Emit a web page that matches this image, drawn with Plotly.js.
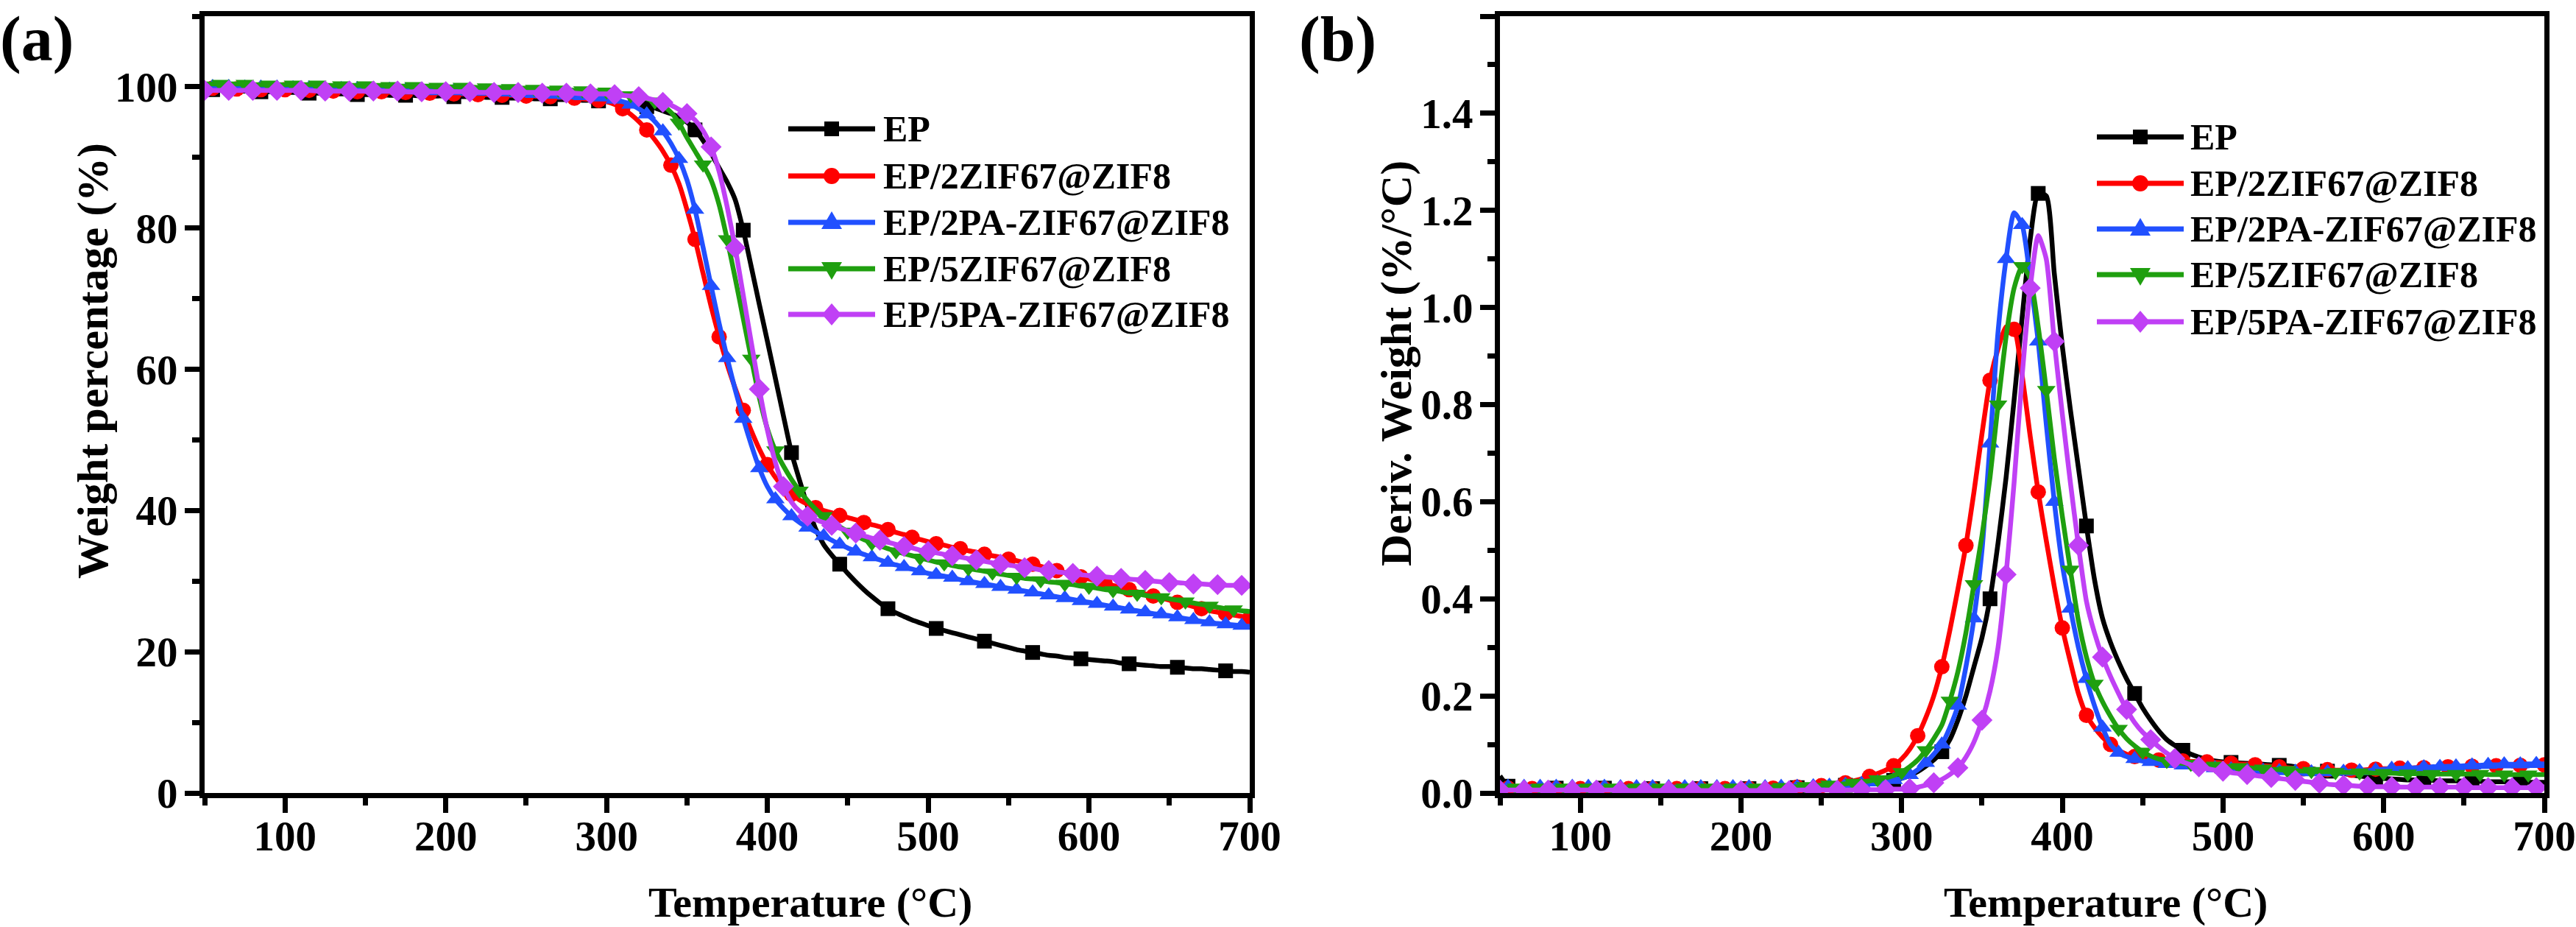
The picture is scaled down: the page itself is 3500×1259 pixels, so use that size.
<!DOCTYPE html>
<html><head><meta charset="utf-8">
<script src="https://cdn.plot.ly/plotly-3.0.1.min.js"></script>
<style>html,body{margin:0;padding:0;background:#fff;}#chart{width:3500px;height:1259px;}</style>
</head><body><div id="chart"></div>
<script>
// ---------------- DATA ----------------
const temperature = [50,55,60,65,70,75,80,85,90,95,100,105,110,115,120,125,130,135,140,145,150,155,160,165,170,175,180,185,190,195,200,205,210,215,220,225,230,235,240,245,250,255,260,265,270,275,280,285,290,295,300,305,310,315,320,325,330,335,340,345,350,355,360,365,370,375,380,385,390,395,400,405,410,415,420,425,430,435,440,445,450,455,460,465,470,475,480,485,490,495,500,505,510,515,520,525,530,535,540,545,550,555,560,565,570,575,580,585,590,595,600,605,610,615,620,625,630,635,640,645,650,655,660,665,670,675,680,685,690,695,700];

const seriesNames = ['EP','EP/2ZIF67@ZIF8','EP/2PA-ZIF67@ZIF8','EP/5ZIF67@ZIF8','EP/5PA-ZIF67@ZIF8'];

const weightEP = [99.6,99.6,99.5,99.5,99.4,99.4,99.4,99.3,99.3,99.3,
99.2,99.2,99.2,99.1,99.1,99.1,99.0,99.0,99.0,98.9,
98.9,98.9,98.9,98.8,98.8,98.8,98.8,98.7,98.7,98.7,
98.7,98.6,98.6,98.6,98.6,98.5,98.5,98.5,98.4,98.4,
98.4,98.3,98.3,98.3,98.2,98.2,98.2,98.1,98.1,98.0,
98.0,97.9,97.8,97.6,97.4,97.2,97.0,96.6,96.2,95.7,
95.0,93.9,92.4,90.6,88.5,86.5,84.0,79.7,74.5,69.2,
64.0,58.7,53.4,48.2,44.3,40.6,37.4,35.2,33.7,32.4,
31.1,29.9,28.8,27.8,26.9,26.1,25.5,25.0,24.5,24.1,
23.7,23.3,23.0,22.7,22.4,22.1,21.8,21.5,21.2,20.9,
20.6,20.3,20.1,19.9,19.7,19.5,19.4,19.2,19.1,19.0,
18.9,18.8,18.7,18.6,18.4,18.3,18.2,18.1,18.0,17.9,
17.9,17.8,17.7,17.6,17.6,17.5,17.4,17.3,17.2,17.2,
17.1];
const weight2ZIF = [99.8,99.8,99.8,99.7,99.7,99.7,99.7,99.6,99.6,99.6,
99.6,99.5,99.5,99.5,99.5,99.4,99.4,99.4,99.4,99.3,
99.3,99.3,99.3,99.2,99.2,99.2,99.2,99.1,99.1,99.1,
99.1,99.0,99.0,99.0,98.9,98.9,98.9,98.8,98.8,98.8,
98.7,98.7,98.6,98.6,98.5,98.5,98.4,98.3,98.2,98.1,
97.9,97.5,96.9,96.1,95.1,93.9,92.5,90.9,88.9,86.3,
82.6,78.4,73.6,68.9,64.6,60.7,57.3,54.2,51.3,48.7,
46.5,44.7,43.3,42.3,41.5,40.9,40.4,40.0,39.7,39.3,
39.0,38.7,38.3,38.0,37.7,37.3,36.9,36.6,36.2,35.9,
35.6,35.3,35.1,34.8,34.6,34.3,34.1,33.8,33.6,33.4,
33.1,32.9,32.6,32.4,32.1,31.8,31.5,31.2,30.9,30.6,
30.3,30.0,29.7,29.4,29.1,28.8,28.5,28.2,27.9,27.6,
27.3,27.0,26.7,26.4,26.1,25.8,25.6,25.4,25.2,25.0,
24.8];
const weight2PA = [100.0,100.0,100.0,100.0,99.9,99.9,99.9,99.9,99.9,99.9,
99.8,99.8,99.8,99.8,99.8,99.7,99.7,99.7,99.7,99.7,
99.6,99.6,99.6,99.6,99.6,99.5,99.5,99.5,99.5,99.4,
99.4,99.4,99.4,99.3,99.3,99.3,99.2,99.2,99.2,99.1,
99.1,99.0,99.0,98.9,98.9,98.8,98.8,98.7,98.6,98.5,
98.4,98.2,97.9,97.5,96.9,96.1,95.1,93.7,92.0,89.8,
86.8,82.6,77.3,71.8,66.5,61.6,57.1,53.0,49.3,46.0,
43.4,41.6,40.3,39.2,38.3,37.6,37.0,36.4,35.8,35.2,
34.7,34.2,33.8,33.4,33.0,32.6,32.3,32.0,31.7,31.4,
31.1,30.9,30.7,30.5,30.2,30.0,29.8,29.6,29.4,29.2,
29.0,28.8,28.6,28.4,28.2,28.0,27.8,27.6,27.4,27.2,
27.0,26.8,26.6,26.4,26.2,26.0,25.8,25.6,25.4,25.3,
25.1,24.9,24.7,24.5,24.3,24.2,24.0,23.9,23.8,23.7,
23.6];
const weight5ZIF = [100.4,100.4,100.4,100.4,100.4,100.4,100.3,100.3,100.3,100.3,
100.3,100.3,100.3,100.3,100.3,100.2,100.2,100.2,100.2,100.2,
100.2,100.2,100.2,100.1,100.1,100.1,100.1,100.1,100.1,100.0,
100.0,100.0,100.0,100.0,99.9,99.9,99.9,99.9,99.8,99.8,
99.8,99.7,99.7,99.7,99.6,99.6,99.5,99.5,99.4,99.4,
99.3,99.2,99.0,98.8,98.6,98.3,97.9,97.3,96.4,94.9,
92.8,90.9,89.0,86.8,83.3,78.4,72.9,67.2,61.5,56.0,
51.6,48.5,46.3,44.4,42.8,41.4,40.2,39.2,38.4,37.7,
37.0,36.4,35.9,35.4,35.0,34.6,34.2,33.9,33.6,33.3,
33.0,32.7,32.5,32.2,32.0,31.8,31.6,31.4,31.2,31.0,
30.8,30.6,30.4,30.3,30.1,29.9,29.8,29.6,29.5,29.3,
29.2,29.0,28.8,28.7,28.5,28.3,28.2,28.0,27.8,27.7,
27.5,27.3,27.1,26.9,26.7,26.5,26.3,26.1,26.0,25.8,
25.7];
const weight5PA = [99.5,99.5,99.5,99.5,99.5,99.5,99.5,99.5,99.5,99.5,
99.5,99.5,99.5,99.5,99.4,99.4,99.4,99.4,99.4,99.4,
99.4,99.4,99.4,99.4,99.4,99.3,99.3,99.3,99.3,99.3,
99.3,99.3,99.3,99.3,99.2,99.2,99.2,99.2,99.2,99.2,
99.2,99.2,99.1,99.1,99.1,99.1,99.1,99.0,99.0,99.0,
99.0,98.9,98.8,98.7,98.6,98.4,98.1,97.8,97.4,96.8,
96.2,95.3,93.8,91.5,88.0,83.0,77.2,70.5,63.8,57.2,
51.4,46.8,43.4,41.2,39.9,39.2,38.7,38.3,37.9,37.5,
37.1,36.8,36.4,36.1,35.8,35.5,35.2,34.9,34.7,34.4,
34.2,34.0,33.8,33.6,33.4,33.2,33.0,32.8,32.6,32.4,
32.3,32.1,31.9,31.8,31.6,31.5,31.3,31.2,31.1,30.9,
30.8,30.7,30.6,30.5,30.4,30.3,30.2,30.1,30.0,29.9,
29.8,29.8,29.7,29.6,29.6,29.5,29.5,29.4,29.4,29.4,
29.3];

const derivEP = [0.035,0.014,0.012,0.011,0.011,0.010,0.010,0.010,0.010,0.010,
0.010,0.010,0.010,0.010,0.010,0.009,0.009,0.009,0.009,0.009,
0.009,0.009,0.009,0.009,0.009,0.009,0.009,0.009,0.009,0.009,
0.009,0.009,0.009,0.010,0.010,0.010,0.011,0.011,0.012,0.012,
0.013,0.014,0.015,0.016,0.017,0.018,0.019,0.021,0.023,0.026,
0.030,0.036,0.044,0.055,0.068,0.085,0.11,0.15,0.20,0.26,
0.32,0.40,0.515,0.65,0.81,0.98,1.14,1.235,1.23,1.07,
0.92,0.79,0.67,0.55,0.44,0.36,0.31,0.27,0.235,0.205,
0.175,0.15,0.128,0.11,0.098,0.088,0.08,0.074,0.069,0.066,
0.064,0.063,0.062,0.061,0.060,0.059,0.058,0.057,0.056,0.054,
0.052,0.050,0.047,0.045,0.042,0.040,0.037,0.035,0.033,0.031,
0.030,0.029,0.028,0.027,0.027,0.026,0.026,0.025,0.025,0.025,
0.024,0.024,0.024,0.023,0.023,0.023,0.023,0.022,0.022,0.022,
0.022];
const deriv2ZIF = [0.010,0.010,0.009,0.009,0.009,0.009,0.009,0.009,0.009,0.009,
0.009,0.009,0.009,0.009,0.009,0.009,0.009,0.009,0.009,0.009,
0.009,0.009,0.009,0.009,0.009,0.009,0.009,0.009,0.009,0.009,
0.009,0.009,0.009,0.010,0.010,0.011,0.011,0.012,0.013,0.014,
0.015,0.016,0.018,0.021,0.025,0.029,0.034,0.040,0.047,0.056,
0.070,0.090,0.118,0.155,0.20,0.26,0.335,0.42,0.51,0.62,
0.74,0.85,0.915,0.96,0.955,0.86,0.735,0.62,0.52,0.425,
0.34,0.27,0.205,0.16,0.135,0.115,0.10,0.088,0.080,0.075,
0.072,0.070,0.068,0.067,0.066,0.066,0.065,0.065,0.064,0.063,
0.062,0.061,0.060,0.059,0.058,0.056,0.055,0.054,0.052,0.051,
0.050,0.049,0.048,0.048,0.047,0.047,0.047,0.047,0.048,0.049,
0.050,0.050,0.051,0.051,0.052,0.052,0.053,0.053,0.054,0.054,
0.055,0.055,0.056,0.056,0.056,0.057,0.057,0.057,0.057,0.058,
0.058];
const deriv2PA = [0.014,0.013,0.013,0.013,0.013,0.013,0.013,0.013,0.013,0.013,
0.013,0.013,0.013,0.013,0.012,0.012,0.012,0.012,0.012,0.012,
0.012,0.012,0.012,0.012,0.012,0.012,0.012,0.012,0.012,0.012,
0.012,0.012,0.012,0.012,0.012,0.013,0.013,0.013,0.014,0.014,
0.015,0.015,0.016,0.017,0.018,0.019,0.020,0.022,0.024,0.027,
0.030,0.037,0.048,0.062,0.080,0.10,0.135,0.18,0.26,0.36,
0.50,0.72,0.95,1.10,1.195,1.17,1.06,0.93,0.76,0.60,
0.47,0.38,0.30,0.235,0.18,0.135,0.10,0.083,0.075,0.070,
0.066,0.064,0.062,0.060,0.058,0.057,0.055,0.054,0.052,0.051,
0.050,0.049,0.048,0.047,0.046,0.046,0.045,0.045,0.044,0.044,
0.043,0.043,0.043,0.043,0.044,0.044,0.045,0.045,0.046,0.047,
0.049,0.050,0.051,0.051,0.052,0.053,0.054,0.054,0.055,0.055,
0.056,0.057,0.057,0.058,0.058,0.059,0.059,0.059,0.060,0.060,
0.060];
const deriv5ZIF = [0.012,0.011,0.011,0.011,0.011,0.011,0.011,0.011,0.011,0.011,
0.011,0.011,0.011,0.011,0.011,0.011,0.011,0.011,0.011,0.011,
0.011,0.011,0.011,0.011,0.011,0.011,0.011,0.011,0.011,0.011,
0.011,0.011,0.011,0.012,0.012,0.012,0.013,0.013,0.014,0.015,
0.016,0.017,0.018,0.019,0.021,0.023,0.025,0.028,0.031,0.036,
0.043,0.054,0.068,0.088,0.112,0.14,0.19,0.25,0.33,0.43,
0.53,0.65,0.80,0.94,1.04,1.085,1.06,0.96,0.83,0.69,
0.57,0.46,0.355,0.28,0.225,0.188,0.158,0.132,0.112,0.097,
0.085,0.076,0.070,0.066,0.063,0.061,0.060,0.058,0.057,0.056,
0.055,0.054,0.053,0.052,0.051,0.050,0.049,0.048,0.047,0.046,
0.045,0.045,0.044,0.044,0.043,0.043,0.042,0.042,0.042,0.041,
0.041,0.041,0.040,0.040,0.040,0.040,0.039,0.039,0.039,0.039,
0.039,0.039,0.039,0.038,0.038,0.038,0.038,0.038,0.038,0.038,
0.038];
const deriv5PA = [0.006,0.006,0.006,0.006,0.006,0.006,0.006,0.006,0.006,0.006,
0.006,0.006,0.006,0.006,0.006,0.005,0.005,0.005,0.005,0.005,
0.005,0.005,0.005,0.005,0.005,0.005,0.005,0.005,0.005,0.005,
0.005,0.005,0.005,0.005,0.005,0.005,0.005,0.006,0.006,0.006,
0.006,0.006,0.006,0.006,0.006,0.007,0.007,0.007,0.007,0.008,
0.008,0.009,0.012,0.016,0.021,0.028,0.038,0.052,0.074,0.105,
0.15,0.21,0.30,0.45,0.64,0.86,1.04,1.148,1.10,0.93,
0.78,0.64,0.51,0.395,0.33,0.28,0.24,0.205,0.172,0.145,
0.125,0.11,0.095,0.082,0.071,0.064,0.058,0.054,0.050,0.047,
0.045,0.042,0.040,0.038,0.036,0.034,0.032,0.030,0.028,0.026,
0.024,0.022,0.020,0.018,0.017,0.016,0.015,0.014,0.014,0.013,
0.013,0.013,0.012,0.012,0.012,0.012,0.012,0.012,0.012,0.012,
0.012,0.011,0.011,0.011,0.011,0.011,0.011,0.011,0.011,0.011,
0.011];

const weightSeries = [weightEP, weight2ZIF, weight2PA, weight5ZIF, weight5PA];
const derivSeries  = [derivEP, deriv2ZIF, deriv2PA, deriv5ZIF, deriv5PA];

const xTickVals = [100,200,300,400,500,600,700];
const weightTickVals = [0,20,40,60,80,100];
const derivTickVals = [0,0.2,0.4,0.6,0.8,1.0,1.2,1.4,1.6];

// ---------------- STYLE ----------------
const FONT = 'Liberation Serif, Times New Roman, serif';
const colors  = ['#000000','#ff0000','#2150ff','#1f9f0f','#c040f5'];
const symbols = ['square','circle','triangle-up','triangle-down','diamond'];
const msize   = [20,21,22,22,22];
const mStep   = [6,3,2,3,3];
const mStart  = [1,1,1,2,0];
const LW = 6.5;

const W = 3500, H = 1259;
const fx = p => p / W;
const fy = p => 1 - p / H;

function buildTraces(seriesList, xa, ya) {
  const out = [];
  seriesList.forEach((vals, s) => {
    out.push({type:'scatter', mode:'lines', x: temperature, y: vals, xaxis: xa, yaxis: ya,
      line:{color: colors[s], width: LW, shape:'spline', smoothing:0.6}, showlegend:false, hoverinfo:'skip'});
    const mx = [], my = [];
    for (let i = mStart[s]; i < vals.length; i += mStep[s]) { mx.push(temperature[i]); my.push(vals[i]); }
    out.push({type:'scatter', mode:'markers', x: mx, y: my, xaxis: xa, yaxis: ya,
      marker:{color: colors[s], symbol: symbols[s], size: msize[s], line:{width:0}}, showlegend:false, hoverinfo:'skip'});
  });
  return out;
}

const data = [].concat(buildTraces(weightSeries,'x','y'), buildTraces(derivSeries,'x2','y2'));

const axisBase = {
  showline:true, linecolor:'#000', linewidth:7, mirror:true,
  ticks:'outside', ticklen:20, tickwidth:7, tickcolor:'#000',
  showgrid:false, zeroline:false, fixedrange:true,
  tickfont:{family:FONT, size:57, color:'#000', weight:'bold'}
};
const minorX = {ticks:'outside', ticklen:10, tickwidth:7, tickcolor:'#000', dtick:50, tick0:0, showgrid:false};
const minorY = d => ({ticks:'outside', ticklen:10, tickwidth:7, tickcolor:'#000', dtick:d, tick0:0, showgrid:false});

const yDom = [fy(1077), fy(22)];
const layout = {
  width: W, height: H, margin:{l:0,r:0,t:0,b:0,pad:0},
  paper_bgcolor:'#fff', plot_bgcolor:'#fff', showlegend:false,
  font:{family:FONT, color:'#000'},
  xaxis: Object.assign({}, axisBase, {domain:[fx(278), fx(1698)], range:[50,700], anchor:'y',
    tickmode:'array', tickvals:xTickVals, minor:minorX, ticklabelstandoff:-17}),
  yaxis: Object.assign({}, axisBase, {domain:yDom, range:[0,110], anchor:'x',
    tickmode:'array', tickvals:weightTickVals, minor:minorY(10), ticklabelstandoff:-2}),
  xaxis2: Object.assign({}, axisBase, {domain:[fx(2038), fx(3457)], range:[50,700], anchor:'y2',
    tickmode:'array', tickvals:xTickVals, minor:minorX, ticklabelstandoff:-17}),
  yaxis2: Object.assign({}, axisBase, {domain:yDom, range:[0,1.6], anchor:'x2',
    tickmode:'array', tickvals:derivTickVals, tickformat:'.1f', minor:minorY(0.1), ticklabelstandoff:-2}),
  annotations: [],
  shapes: []
};

const xTitleFont = {family:FONT, size:58, color:'#000', weight:'bold'};
const yTitleFont = {family:FONT, size:60, color:'#000', weight:'bold'};
const panelFont  = {family:FONT, size:86, color:'#000', weight:'bold'};
const ann = (text, x, y, font, extra) => Object.assign({text, x: fx(x), y: fy(y), xref:'paper', yref:'paper',
  xanchor:'center', yanchor:'middle', showarrow:false, borderpad:0, font}, extra || {});

layout.annotations.push(ann('(a)', 50, 52.5, panelFont));
layout.annotations.push(ann('(b)', 1817, 52.5, panelFont));
layout.annotations.push(ann('Temperature (°C)', 1101, 1259, xTitleFont, {yanchor:'bottom'}));
layout.annotations.push(ann('Temperature (°C)', 2861, 1259, xTitleFont, {yanchor:'bottom'}));
layout.annotations.push(ann('Weight percentage (%)', 126, 490, yTitleFont, {textangle:-90}));
layout.annotations.push(ann('Deriv. Weight (%/°C)', 1897, 494, yTitleFont, {textangle:-90}));

// custom legends (sample line + marker + label), positions from the reference
const markerPaths = [
  'M-10,-10 L10,-10 L10,10 L-10,10 Z',
  null,
  'M-14,-9 L14,-9 L0,15 Z',
  'M-14,9 L14,9 L0,-15 Z',
  'M0,15 L13,0 L0,-15 L-13,0 Z'
];
const legends = [
  {x0:1071, x1:1189, xt:1199, rows:[175,239,302,365,427]},
  {x0:2849, x1:2967, xt:2975, rows:[186,249,311,373,437]}
];
legends.forEach(L => {
  const xm = (L.x0 + L.x1) / 2;
  seriesNames.forEach((name, s) => {
    const yy = L.rows[s];
    layout.shapes.push({type:'line', xref:'paper', yref:'paper', x0:fx(L.x0), x1:fx(L.x1), y0:fy(yy), y1:fy(yy),
      line:{color:colors[s], width:7}});
    if (s === 1) {
      layout.shapes.push({type:'circle', xref:'paper', yref:'paper', xsizemode:'pixel', ysizemode:'pixel',
        xanchor:fx(xm), yanchor:fy(yy), x0:-11, x1:11, y0:-11, y1:11, fillcolor:colors[s], line:{width:0}});
    } else {
      layout.shapes.push({type:'path', xref:'paper', yref:'paper', xsizemode:'pixel', ysizemode:'pixel',
        xanchor:fx(xm), yanchor:fy(yy), path:markerPaths[s], fillcolor:colors[s], line:{width:0}});
    }
    layout.annotations.push({text:name, x:fx(L.xt), y:fy(yy), xref:'paper', yref:'paper', xanchor:'left', yanchor:'middle',
      showarrow:false, borderpad:0, font:{family:FONT, size:50, color:'#000', weight:'bold'}});
  });
});

Plotly.newPlot('chart', data, layout, {staticPlot:true, displayModeBar:false});
</script>
</body></html>
